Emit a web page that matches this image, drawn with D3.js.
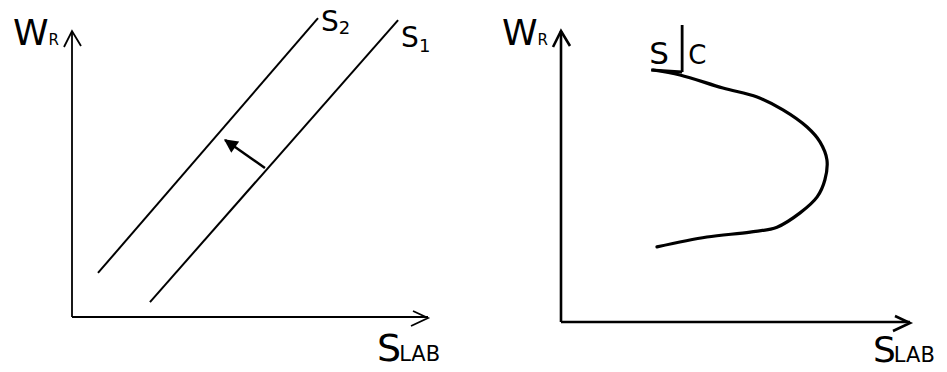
<!DOCTYPE html>
<html>
<head>
<meta charset="utf-8">
<script src="https://cdn.jsdelivr.net/npm/d3@7"></script>
<style>
  html, body { margin: 0; padding: 0; background: #fff; }
  svg { display: block; }
  text { font-family: "DejaVu Sans", sans-serif; fill: #000; }
</style>
</head>
<body>
<svg id="chart" width="947" height="372"></svg>
<script>
// Left panel: labour supply shifts from S1 to S2 (line endpoints in axis units 0..100)
const supply1 = [[21.9, 5.2], [91.6, 103.8]];
const supply2 = [[7.3, 15.4], [69.1, 104.5]];
const shiftArrow = [[54.2, 52.1], [43.0, 61.9]];

// Right panel: backward-bending labour supply curve
const backwardCurve = [
  [26.4, 86.6], [34.1, 84.9], [46.4, 80.4], [56.2, 77.3], [63.6, 72.9],
  [70.5, 67.0], [74.2, 61.9], [76.2, 55.7], [75.6, 48.8], [73.4, 43.0],
  [68.5, 37.5], [61.9, 32.6], [54.2, 30.9], [41.8, 29.2], [27.5, 25.8]
];

// Axis titles
const yTitle = ["W", "R"];
const xTitle = ["S", "LAB"];

const svg = d3.select("#chart");

function panel(x0, x1, y0, y1, axisWidth, xTitleDx, xTitleDy, xTitleSize) {
  const x = d3.scaleLinear().domain([0, 100]).range([x0, x1]);
  const y = d3.scaleLinear().domain([0, 100]).range([y0, y1]);
  const g = svg.append("g");
  // axes
  g.append("line").attr("x1", x(0)).attr("y1", y(0)).attr("x2", x(0)).attr("y2", y(100))
    .attr("stroke", "#000").attr("stroke-width", axisWidth);
  g.append("line").attr("x1", x(0)).attr("y1", y(0)).attr("x2", x(100)).attr("y2", y(0))
    .attr("stroke", "#000").attr("stroke-width", axisWidth);
  // open arrow heads
  g.append("path")
    .attr("d", `M${x(0) - 8},${y(100) + 16} L${x(0)},${y(100)} L${x(0) + 9},${y(100) + 15}`)
    .attr("fill", "none").attr("stroke", "#000").attr("stroke-width", axisWidth);
  g.append("path")
    .attr("d", `M${x(100) - 15},${y(0) - 6} L${x(100)},${y(0) + 1} L${x(100) - 17},${y(0) + 9}`)
    .attr("fill", "none").attr("stroke", "#000").attr("stroke-width", axisWidth);
  // axis titles
  const wr = g.append("text").attr("x", x(0) - 59).attr("y", y(100) + 14)
    .attr("font-size", 36).attr("font-family", "DejaVu Sans Condensed, DejaVu Sans, sans-serif");
  wr.append("tspan").text(yTitle[0]);
  wr.append("tspan").attr("font-size", 15).attr("dx", 0).text(yTitle[1]);
  const sl = g.append("text").attr("x", x(100) + xTitleDx).attr("y", y(0) + xTitleDy).attr("font-size", xTitleSize);
  sl.append("tspan").text(xTitle[0]);
  sl.append("tspan").attr("font-size", 21).attr("dx", -2).text(xTitle[1]);
  return { g, x, y };
}

// ---- left panel ----
const L = panel(72, 428, 317, 31, 1.8, -51, 44, 38);
const line = d3.line().x(d => L.x(d[0])).y(d => L.y(d[1]));
L.g.append("path").attr("d", line(supply1)).attr("fill", "none").attr("stroke", "#000").attr("stroke-width", 2);
L.g.append("path").attr("d", line(supply2)).attr("fill", "none").attr("stroke", "#000").attr("stroke-width", 2);
svg.append("defs").append("marker").attr("id", "head")
  .attr("viewBox", "0 0 10 10").attr("refX", 9).attr("refY", 5)
  .attr("markerWidth", 6).attr("markerHeight", 5.5).attr("orient", "auto")
  .append("path").attr("d", "M0,0 L10,5 L0,10 Z").attr("fill", "#000");
L.g.append("path").attr("d", line(shiftArrow)).attr("fill", "none").attr("stroke", "#000")
  .attr("stroke-width", 2.5).attr("marker-end", "url(#head)");
const s2 = L.g.append("text").attr("x", L.x(supply2[1][0]) + 3).attr("y", L.y(supply2[1][1]) + 13).attr("font-size", 28);
s2.append("tspan").text("S");
s2.append("tspan").attr("font-size", 18).attr("dy", 3).text("2");
const s1 = L.g.append("text").attr("x", L.x(supply1[1][0]) + 3).attr("y", L.y(supply1[1][1]) + 27).attr("font-size", 28);
s1.append("tspan").text("S");
s1.append("tspan").attr("font-size", 18).attr("dy", 5).text("1");

// ---- right panel ----
const R = panel(561, 910, 322, 31, 2.6, -37, 40, 36);
const curve = d3.line().x(d => R.x(d[0])).y(d => R.y(d[1])).curve(d3.curveCatmullRom);
R.g.append("path").attr("d", curve(backwardCurve)).attr("fill", "none").attr("stroke", "#000")
  .attr("stroke-width", 3.2).attr("stroke-linecap", "round");
// "S|C" label above the top of the curve
const curveTop = backwardCurve[0];
const tx = R.x(curveTop[0]), ty = R.y(curveTop[1]);
R.g.append("line").attr("x1", tx - 2).attr("y1", ty)
  .attr("x2", tx + 29).attr("y2", ty + 2).attr("stroke", "#000").attr("stroke-width", 3);
R.g.append("line").attr("x1", tx + 29).attr("y1", ty - 45)
  .attr("x2", tx + 29).attr("y2", ty + 2).attr("stroke", "#000").attr("stroke-width", 2.8);
R.g.append("text").attr("x", tx - 4).attr("y", ty - 6).attr("font-size", 31).text("S");
R.g.append("text").attr("x", tx + 35).attr("y", ty - 6).attr("font-size", 26).text("C");
</script>
</body>
</html>
